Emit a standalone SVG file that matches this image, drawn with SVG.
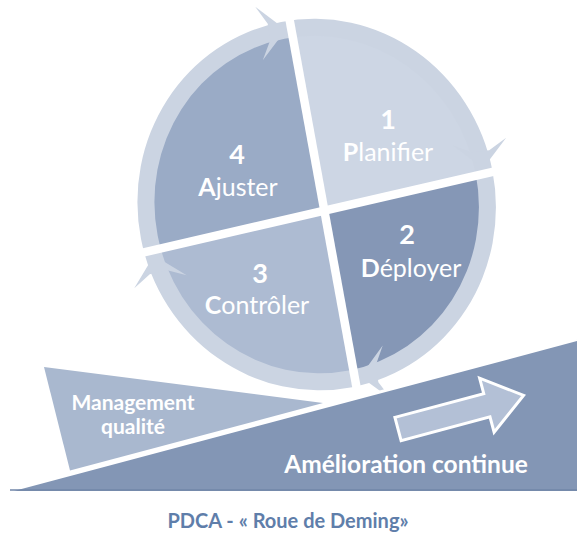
<svg xmlns="http://www.w3.org/2000/svg" width="577" height="533" viewBox="0 0 577 533">
<style>
text{font-family:Lato,"Open Sans","Liberation Sans",sans-serif;text-anchor:middle}
.lbl{fill:#fff;font-size:25px}
.num{fill:#fff;font-size:27px;font-weight:700}
.b{font-weight:700}
.tag{fill:#fff;font-weight:700;font-size:21px}
.ring{fill:#cbd4e2}
.gap{stroke:#fff;stroke-width:8.5;fill:none}
</style>
<defs>
  <!-- quadrant clips in the wheel's own (rotated) frame -->
  <clipPath id="q1"><polygon points="6.5,-250 250,-250 250,-3.2 3.44,5.4"/></clipPath>
  <clipPath id="q2"><polygon points="3.44,5.4 250,-3.2 250,250 0.5,250"/></clipPath>
  <clipPath id="q3"><polygon points="3.44,5.4 0.5,250 -250,250 -250,14.3"/></clipPath>
  <clipPath id="q4"><polygon points="3.44,5.4 -250,14.3 -250,-250 6.5,-250"/></clipPath>
  <!-- arrowhead, tip at origin, pointing +x along the ring -->
  <path id="head" d="M-17,-8.5 L-27,-27 L0,0 L-27,27 L-17,8.5 Z"/>
</defs>
<rect width="577" height="533" fill="#fff"/>

<g id="management">
  <polygon points="44,367 323,403 70,470.5" fill="#a9b8cf"/>
  <text class="tag" x="133" y="410">Management</text>
  <text class="tag" x="133" y="434">qualité</text>
</g>

<g id="planifier">
  <ellipse transform="translate(320,206) rotate(-11)" cx="-3" cy="-2" rx="164" ry="171" fill="#cdd6e4" clip-path="url(#q1)"/>
  <text class="num" x="388" y="129">1</text>
  <text class="lbl" x="388" y="161"><tspan class="b">P</tspan>lanifier</text>
</g>
<g id="deployer">
  <ellipse transform="translate(320,206) rotate(-11)" cx="-3" cy="-2" rx="164" ry="171" fill="#8597b6" clip-path="url(#q2)"/>
  <text class="num" x="407" y="244">2</text>
  <text class="lbl" x="411" y="277"><tspan class="b">D</tspan>éployer</text>
</g>
<g id="controler">
  <ellipse transform="translate(320,206) rotate(-11)" cx="-3" cy="-2" rx="164" ry="171" fill="#adbbd2" clip-path="url(#q3)"/>
  <text class="num" x="260" y="283">3</text>
  <text class="lbl" x="257" y="314"><tspan class="b">C</tspan>ontrôler</text>
</g>
<g id="ajuster">
  <ellipse transform="translate(320,206) rotate(-11)" cx="-3" cy="-2" rx="164" ry="171" fill="#9aabc6" clip-path="url(#q4)"/>
  <text class="num" x="237" y="164">4</text>
  <text class="lbl" x="238" y="196"><tspan class="b">A</tspan>juster</text>
</g>

<!-- cycle arrows round the wheel -->
<g id="connectors" class="ring" transform="translate(320,206) rotate(-11)">
  <path fill-rule="evenodd" d="M176,-2 A179,186 0 1 0 -182,-2 A179,186 0 1 0 176,-2 Z M159,-2 A162,169 0 1 0 -165,-2 A162,169 0 1 0 159,-2 Z"/>
  <use href="#head" transform="translate(0,-179.5) rotate(3)"/>
  <use href="#head" transform="translate(167.4,-6) rotate(93)"/>
  <use href="#head" transform="translate(7,175) rotate(182)"/>
  <use href="#head" transform="translate(-172.5,17) rotate(-93)"/>
</g>
<g id="dividers" class="gap" transform="translate(320,206) rotate(-11)">
  <line x1="6" y1="-215" x2="1" y2="205"/>
  <line x1="-205" y1="12.7" x2="205" y2="-1.6"/>
</g>

<g id="amelioration">
  <polygon points="8,491 577,339.5 577,491" fill="#8396b5"/>
  <line x1="8" y1="491" x2="577" y2="339.5" stroke="#fff" stroke-width="3"/>
  <line x1="10" y1="490" x2="577" y2="490" stroke="#7186a9" stroke-width="1.5"/>
  <path transform="translate(398,429) rotate(-15)" d="M0,-12 H92 V-28 L130,0 L92,28 V12 H0 Z" fill="#b3c0d6" stroke="#fff" stroke-width="3" stroke-linejoin="miter"/>
  <text class="tag" x="406" y="473" style="font-size:24.5px">Amélioration continue</text>
</g>

<text id="caption" x="288" y="528" fill="#5f7eaa" font-weight="700" style="font-size:20px">PDCA - « Roue de Deming»</text>
</svg>
